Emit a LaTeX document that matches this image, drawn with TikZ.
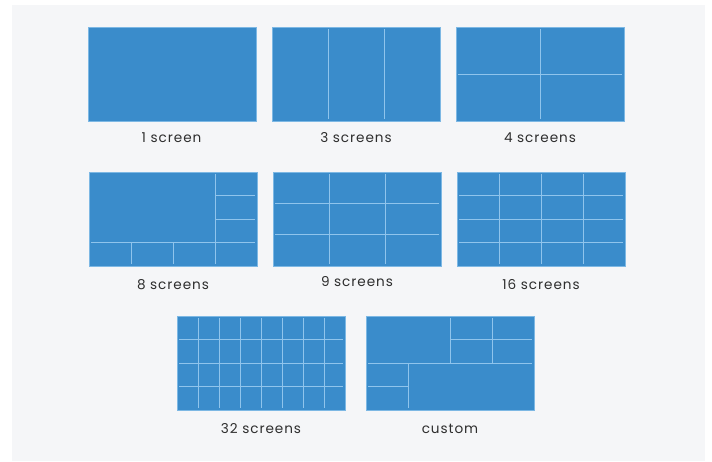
\documentclass[tikz,border=0pt]{standalone}
\usepackage{fontspec}
\setmainfont{Poppins}
\newfontfamily\lblfont[LetterSpace=7]{Poppins}
\begin{document}
\begin{tikzpicture}[x=1pt,y=-1pt,
  scr/.style={draw=scrborder,line width=0.8pt,fill=scrfill,anchor=north west,minimum width=168pt,minimum height=94pt,inner sep=0pt},
  div/.style={draw=divline,line width=0.9pt},
  lbl/.style={font=\lblfont\fontsize{13.6}{15}\selectfont,text=lbltext,anchor=center,inner sep=0pt}]
\definecolor{scrfill}{HTML}{3A8CCB}
\definecolor{scrborder}{HTML}{7DB8E4}
\definecolor{divline}{HTML}{8FC4EC}
\definecolor{lbltext}{HTML}{2E2E2E}
\definecolor{panelbg}{HTML}{F5F6F8}
\useasboundingbox (0,0) rectangle (712,461);
\fill[white] (0,0) rectangle (712,461);
\fill[panelbg] (12,5) rectangle (705,461);
% row 1
\node[scr] (s1) at (88,27) {};
\node[scr] (s3) at (272,27) {};
\node[scr] (s4) at (456,27) {};
% row 2
\node[scr] (s8) at (89,172) {};
\node[scr] (s9) at (273,172) {};
\node[scr] (s16) at (457,172) {};
% row 3
\node[scr] (s32) at (177,316) {};
\node[scr] (sc) at (366,316) {};
% 3 screens
\begin{scope}[shift={(272,27)}]
\foreach \x in {56,112} \draw[div] (\x,2) -- (\x,92);
\end{scope}
% 4 screens
\begin{scope}[shift={(456,27)}]
\draw[div] (84,2) -- (84,92);
\draw[div] (2,47) -- (166,47);
\end{scope}
% 8 screens
\begin{scope}[shift={(89,172)}]
\draw[div] (126,2) -- (126,92);
\draw[div] (2,70.5) -- (166,70.5);
\draw[div] (126,23.5) -- (166,23.5);
\draw[div] (126,47) -- (166,47);
\foreach \x in {42,84} \draw[div] (\x,70.5) -- (\x,92);
\end{scope}
% 9 screens
\begin{scope}[shift={(273,172)}]
\foreach \x in {56,112} \draw[div] (\x,2) -- (\x,92);
\foreach \y in {31.3,62.7} \draw[div] (2,\y) -- (166,\y);
\end{scope}
% 16 screens
\begin{scope}[shift={(457,172)}]
\foreach \x in {42,84,126} \draw[div] (\x,2) -- (\x,92);
\foreach \y in {23.5,47,70.5} \draw[div] (2,\y) -- (166,\y);
\end{scope}
% 32 screens
\begin{scope}[shift={(177,316)}]
\foreach \x in {21,42,63,84,105,126,147} \draw[div] (\x,2) -- (\x,92);
\foreach \y in {23.5,47,70.5} \draw[div] (2,\y) -- (166,\y);
\end{scope}
% custom
\begin{scope}[shift={(366,316)}]
\draw[div] (84,2) -- (84,47);
\draw[div] (126,2) -- (126,47);
\draw[div] (2,47) -- (166,47);
\draw[div] (84,23.5) -- (166,23.5);
\draw[div] (42,47) -- (42,92);
\draw[div] (2,70.5) -- (42,70.5);
\end{scope}
% labels
\node[lbl] (l1) at (171.5,137.5) {1 screen};
\node[lbl] (l3) at (356,137.5) {3 screens};
\node[lbl] (l4) at (540,137.5) {4 screens};
\node[lbl] (l8) at (173,284.5) {8 screens};
\node[lbl] (l9) at (357,281.5) {9 screens};
\node[lbl] (l16) at (541,284.5) {16 screens};
\node[lbl] (l32) at (261,428.5) {32 screens};
\node[lbl] (lc) at (450,428.5) {custom};
\end{tikzpicture}
\end{document}
